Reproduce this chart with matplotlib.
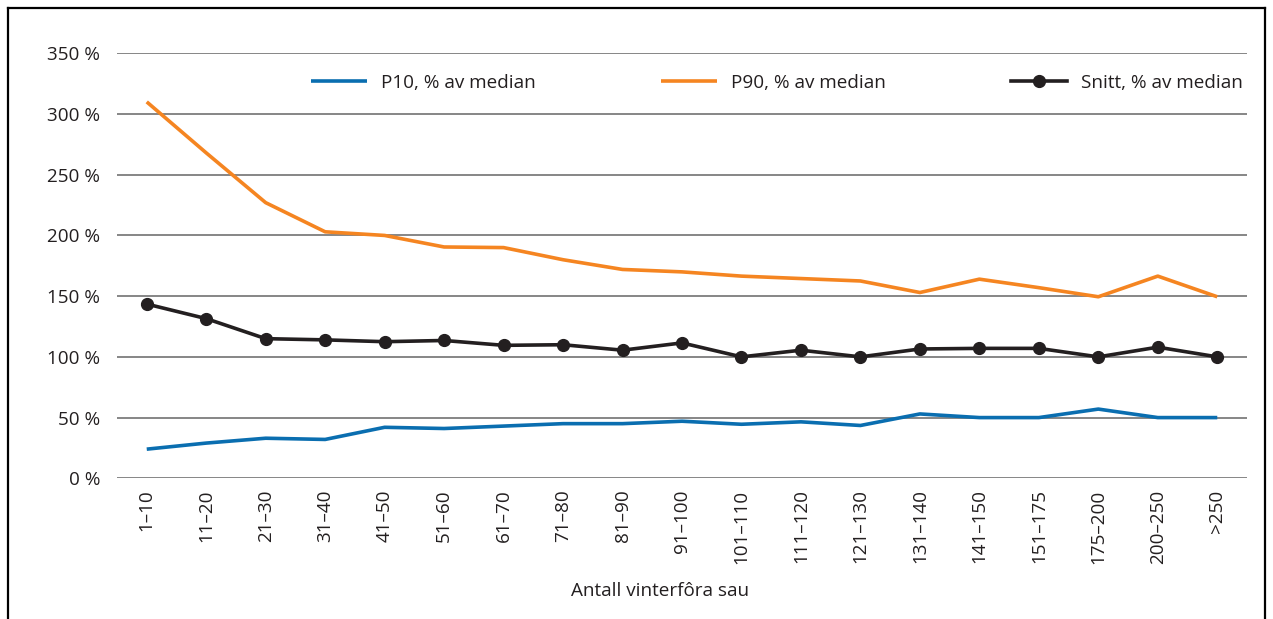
import matplotlib
matplotlib.use("Agg")
import matplotlib.pyplot as plt
from matplotlib.lines import Line2D
import numpy as np

plt.rcParams["font.family"] = "Open Sans"

categories = ["1–10", "11–20", "21–30", "31–40", "41–50", "51–60", "61–70",
              "71–80", "81–90", "91–100", "101–110", "111–120", "121–130",
              "131–140", "141–150", "151–175", "175–200", "200–250", ">250"]

p10 = [24, 29, 33, 32, 42, 41, 43, 45, 45, 47, 44.5, 46.5, 43.5, 53, 50, 50, 57, 50, 50]
p90 = [310, 268, 227, 203, 200, 190.5, 190, 180, 172, 170, 166.5, 164.5, 162.5, 153, 164, 157, 149.5, 166.5, 149.5]
snitt = [143.5, 131.5, 115, 114, 112.5, 113.5, 109.5, 110, 105.5, 111.5, 100, 105.5, 100, 106.5, 107, 107, 100, 108, 100]

yticks = [0, 50, 100, 150, 200, 250, 300, 350]

FS = 13.6
W, H = 1273, 619
fig = plt.figure(figsize=(W / 100, H / 100), dpi=100)
ax = fig.add_axes([117 / W, 1 - 478.3 / H, (1247 - 117) / W, (478.3 - 53.3) / H])

x = np.arange(len(categories))
ax.plot(x, p10, color="#0a6eb0", lw=2.6, solid_capstyle="butt", label="P10, % av median", zorder=3)
ax.plot(x, p90, color="#f58521", lw=2.6, solid_capstyle="butt", label="P90, % av median", zorder=3)
ax.plot(x, snitt, color="#231f20", lw=2.6, marker="o", ms=8.5, label="Snitt, % av median", zorder=4)

ax.set_xlim(-0.5, len(categories) - 0.5)
ax.set_ylim(0, 350)
ax.set_yticks(yticks)
ax.set_yticklabels([f"{v} %" for v in yticks], fontsize=FS, color="#231f20")
ax.set_xticks(x)
ax.set_xticklabels(categories, rotation=90, fontsize=FS, color="#231f20", va="top")
ax.tick_params(length=0, pad=8)
ax.tick_params(axis="y", pad=12)
ax.grid(axis="y", color="#666666", lw=1.1)
ax.set_axisbelow(True)
for s in ax.spines.values():
    s.set_visible(False)

fig.text(660 / W, 1 - 591 / H, "Antall vinterfôra sau", ha="center", va="center",
         fontsize=FS, color="#231f20")

fs = FS * 100 / 72
leg = ax.legend(loc="center left", bbox_to_anchor=((311 - 117) / 1130, (478.3 - 83) / 425),
                ncol=3, frameon=False, fontsize=FS, handlelength=56 / fs,
                handletextpad=14 / fs, columnspacing=125 / fs, borderpad=0, borderaxespad=0)
for t in leg.get_texts():
    t.set_color("#231f20")

# outer frame
for xs, ys in [([8, 1265], [8, 8]), ([1265, 1265], [8, 619])]:
    fig.add_artist(Line2D([v / W for v in xs], [1 - v / H for v in ys], color="black", lw=1.6))
fig.add_artist(Line2D([8 / W, 8 / W], [1 - 8 / H, 0], color="black", lw=1.6))

fig.savefig("out.png", dpi=100)
